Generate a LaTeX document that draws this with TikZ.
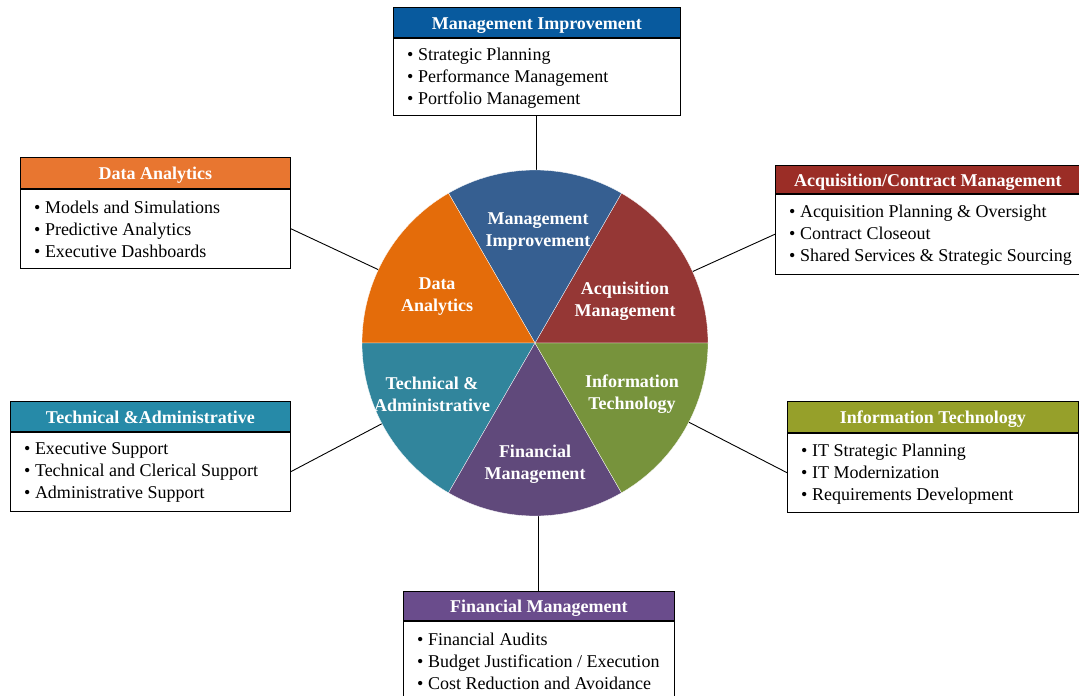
\documentclass[tikz,border=0pt]{standalone}
\usepackage{fontspec}
\setmainfont{Liberation Serif}
\definecolor{mgw}{RGB}{54,95,145}
\definecolor{acw}{RGB}{149,55,53}
\definecolor{daw}{RGB}{228,108,10}
\definecolor{tew}{RGB}{49,133,156}
\definecolor{fiw}{RGB}{96,73,123}
\definecolor{itw}{RGB}{119,147,60}
\definecolor{mgh}{RGB}{8,90,158}
\definecolor{ach}{RGB}{155,45,38}
\definecolor{dah}{RGB}{232,118,48}
\definecolor{teh}{RGB}{38,138,168}
\definecolor{ith}{RGB}{150,160,42}
\definecolor{fih}{RGB}{106,76,140}
\begin{document}
\begin{tikzpicture}[x=1pt,y=-1pt,
  hdr/.style={draw=black, line width=0.8pt, anchor=north west, text=white,
    font=\fontsize{18}{22}\selectfont\bfseries, inner sep=0pt, text height=14pt, text depth=0pt},
  bodybox/.style={draw=black, line width=0.8pt, anchor=north west, fill=white, inner sep=0pt},
  btext/.style={anchor=west, font=\fontsize{18}{22}\selectfont, align=left, inner sep=0pt},
  wlabel/.style={text=white, font=\fontsize{18}{22}\selectfont\bfseries, align=center, inner sep=0pt},
  conn/.style={draw=black, line width=0.9pt},
  wedge/.style={draw=white, line width=0.3pt}]
\useasboundingbox (0,0) rectangle (1079,696);
\coordinate (c) at (535,343);

% Management Improvement box
\node[hdr, fill=mgh, minimum width=287pt, minimum height=30pt] (mgH) at (393,7) {Management Improvement};
\node[bodybox, minimum width=287pt, minimum height=77pt] (mgB) at (mgH.south west) {};
\node[btext] (mgT) at ([xshift=14pt, yshift=-1pt]mgB.west) {• Strategic Planning\\• Performance Management\\• Portfolio Management};

% Acquisition box
\node[hdr, fill=ach, minimum width=305pt, minimum height=28pt] (acH) at (775,165) {Acquisition/Contract Management};
\node[bodybox, minimum width=305pt, minimum height=80pt] (acB) at (acH.south west) {};
\node[btext] (acT) at ([xshift=14pt, yshift=-1pt]acB.west) {• Acquisition Planning \& Oversight\\• Contract Closeout\\• Shared Services \& Strategic Sourcing};

% Data Analytics box
\node[hdr, fill=dah, minimum width=270pt, minimum height=31pt] (daH) at (20,157) {Data Analytics};
\node[bodybox, minimum width=270pt, minimum height=79pt] (daB) at (daH.south west) {};
\node[btext] (daT) at ([xshift=14pt, yshift=-1pt]daB.west) {• Models and Simulations\\• Predictive Analytics\\• Executive Dashboards};

% Technical box
\node[hdr, fill=teh, minimum width=280pt, minimum height=30pt] (teH) at (10,401) {Technical \&Administrative};
\node[bodybox, minimum width=280pt, minimum height=79pt] (teB) at (teH.south west) {};
\node[btext] (teT) at ([xshift=14pt, yshift=-1pt]teB.west) {• Executive Support\\• Technical and Clerical Support\\• Administrative Support};

% Information Technology box
\node[hdr, fill=ith, minimum width=291pt, minimum height=31pt] (itH) at (787,401) {Information Technology};
\node[bodybox, minimum width=291pt, minimum height=79pt] (itB) at (itH.south west) {};
\node[btext] (itT) at ([xshift=14pt, yshift=-1pt]itB.west) {• IT Strategic Planning\\• IT Modernization\\• Requirements Development};

% Financial box
\node[hdr, fill=fih, minimum width=271pt, minimum height=29pt] (fiH) at (403,591) {Financial Management};
\node[bodybox, minimum width=271pt, minimum height=80pt] (fiB) at (fiH.south west) {};
\node[btext] (fiT) at ([xshift=14pt]fiB.west) {• Financial Audits\\• Budget Justification / Execution\\• Cost Reduction and Avoidance};

% connectors (drawn toward the centre, covered by the pie)
\draw[conn] (mgB.south) -- (mgB.south |- c);
\draw[conn] (fiH.north) -- (fiH.north |- c);
\draw[conn] (daB.east) -- (c);
\draw[conn] (acB.west) -- (c);
\draw[conn] (teB.east) -- (c);
\draw[conn] (itB.west) -- (c);

% pie
\begin{scope}[shift={(c)}, y=1pt]
  \filldraw[wedge, fill=acw] (0,0) -- (0:173) arc[start angle=0, end angle=60, radius=173] -- cycle;
  \filldraw[wedge, fill=mgw] (0,0) -- (60:173) arc[start angle=60, end angle=120, radius=173] -- cycle;
  \filldraw[wedge, fill=daw] (0,0) -- (120:173) arc[start angle=120, end angle=180, radius=173] -- cycle;
  \filldraw[wedge, fill=tew] (0,0) -- (180:173) arc[start angle=180, end angle=240, radius=173] -- cycle;
  \filldraw[wedge, fill=fiw] (0,0) -- (240:173) arc[start angle=240, end angle=300, radius=173] -- cycle;
  \filldraw[wedge, fill=itw] (0,0) -- (300:173) arc[start angle=300, end angle=360, radius=173] -- cycle;
\end{scope}

% wedge labels
\node[wlabel] (mgL) at (538,232) {Management\\Improvement};
\node[wlabel] (acL) at (625,301) {Acquisition\\Management};
\node[wlabel] (daL) at (437,297) {Data\\Analytics};
\node[wlabel] (teL) at (432,394) {Technical \&\\Administrative};
\node[wlabel] (itL) at (632,394) {Information\\Technology};
\node[wlabel] (fiL) at (535,464) {Financial\\Management};
\end{tikzpicture}
\end{document}
